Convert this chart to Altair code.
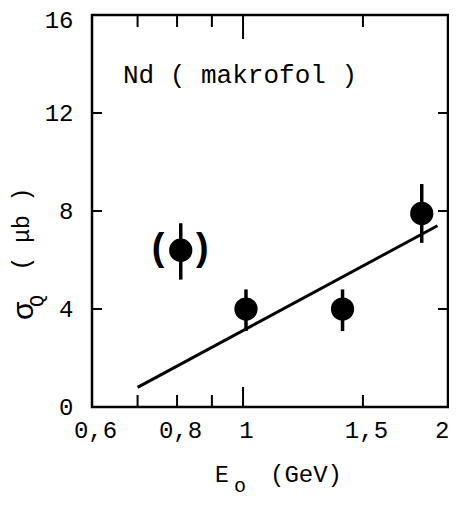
import altair as alt
import pandas as pd

# data
energy = [0.81, 1.01, 1.40, 1.83]
sigma = [6.4, 4.0, 4.0, 7.9]
err_lo = [5.2, 3.1, 3.1, 6.7]
err_hi = [7.5, 4.8, 4.8, 9.1]

fit_x = [0.70, 1.93]
fit_y = [0.8, 7.4]

x_minor_ticks = [0.7, 0.8, 0.9, 1.5]
x_major_ticks = [1.0]
x_labels = [0.6, 0.8, 1.0, 1.5, 2.0]
y_labels = [0, 4, 8, 12, 16]
y_ticks = [4, 8, 12]

pts = pd.DataFrame({"E": energy, "s": sigma, "lo": err_lo, "hi": err_hi})
fit = pd.DataFrame({"E": fit_x, "s": fit_y})
paren = pts.iloc[[0]]

W, H = 356, 392
xscale = alt.Scale(type="log", domain=[0.6, 2.0], nice=False, zero=False)
yscale = alt.Scale(domain=[0, 16], nice=False)

xaxis = alt.Axis(values=x_labels, title=None, grid=False, ticks=False, domain=False,
                 labelFont="Liberation Mono", labelFontSize=24, labelColor="black",
                 labelPadding=11, labelFlush=False,
                 labelAlign={"condition": {"test": "datum.value == 2", "value": "right"}, "value": "center"},
                 labelOffset={"condition": {"test": "datum.value == 2", "value": 1}, "value": 3},
                 labelExpr="replace(format(datum.value, '~g'), '.', ',')")
yaxis = alt.Axis(values=y_labels, title=None, grid=False, ticks=False, domain=False,
                 labelFont="Liberation Mono", labelFontSize=24, labelColor="black",
                 labelPadding=19, labelFlush=False,
                 labelOffset={"condition": {"test": "datum.value == 16", "value": 5}, "value": 0})

X = alt.X("E:Q", scale=xscale, axis=xaxis)
Y = alt.Y("s:Q", scale=yscale, axis=yaxis)

base_pts = alt.Chart(pts)

errs = base_pts.mark_rule(color="black", strokeWidth=3.5).encode(
    x=alt.X("E:Q", scale=xscale), y=alt.Y("lo:Q", scale=yscale), y2="hi:Q")
dots = base_pts.mark_circle(size=540, color="black", opacity=1).encode(x=X, y=Y)
line = alt.Chart(fit).mark_line(color="black", strokeWidth=3).encode(
    x=alt.X("E:Q", scale=xscale), y=alt.Y("s:Q", scale=yscale))

lparen = alt.Chart(paren).mark_text(text="(", fontSize=38, fontWeight="bold",
                                    font="Liberation Mono", dx=-22, dy=-1).encode(
    x=alt.X("E:Q", scale=xscale), y=alt.Y("s:Q", scale=yscale))
rparen = alt.Chart(paren).mark_text(text=")", fontSize=38, fontWeight="bold",
                                    font="Liberation Mono", dx=21, dy=-1).encode(
    x=alt.X("E:Q", scale=xscale), y=alt.Y("s:Q", scale=yscale))

xt_df = pd.DataFrame({"E": x_minor_ticks})
xT_df = pd.DataFrame({"E": x_major_ticks})
yt_df = pd.DataFrame({"s": y_ticks})

def xtick(df, y0, y1):
    return alt.Chart(df).mark_rule(color="black", strokeWidth=2).encode(
        x=alt.X("E:Q", scale=xscale), y=alt.value(y0), y2=alt.value(y1))

def ytick(x0, x1):
    return alt.Chart(yt_df).mark_rule(color="black", strokeWidth=2).encode(
        y=alt.Y("s:Q", scale=yscale), x=alt.value(x0), x2=alt.value(x1))

ticks = [xtick(xt_df, H, H - 12), xtick(xT_df, H, H - 20),
         xtick(xt_df, 0, 12), xtick(xT_df, 0, 24),
         ytick(0, 10), ytick(W, W - 10)]

def label(txt, x, y, size, align="left", angle=0, baseline="alphabetic"):
    return alt.Chart(pd.DataFrame({"t": [txt]})).mark_text(
        align=align, baseline=baseline, angle=angle, font="Liberation Mono",
        fontSize=size, color="black").encode(
        text="t:N", x=alt.value(x), y=alt.value(y))

texts = [
    label("Nd ( makrofol )", 31, 68, 26),
    label("E", 123, 467, 23),
    label("o", 142, 477, 20),
    label("(GeV)", 178, 467, 24),
    label("σ", -68, 296, 30, align="center", angle=270, baseline="middle"),
    label("Q", -55, 286, 20, align="center", angle=270, baseline="middle"),
    label("( μb )", -70, 214, 23, align="center", angle=270, baseline="middle"),
]

chart = alt.layer(line, errs, dots, lparen, rparen, *ticks, *texts).properties(
    width=W, height=H, background="white",
    autosize=alt.AutoSizeParams(type="none"),
    padding={"left": 84, "top": 7, "right": 1, "bottom": 90},
).configure_view(stroke="black", strokeWidth=2.5)

chart.save("out.html", embed_options={"renderer": "svg", "actions": False})
